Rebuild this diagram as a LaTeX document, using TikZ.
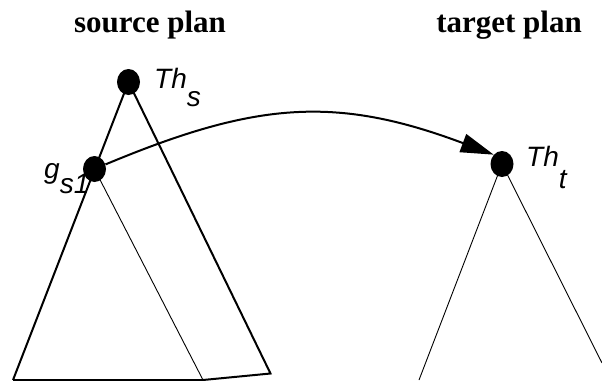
\documentclass[tikz,border=0pt]{standalone}
\usepackage{fontspec}
\setmainfont{Liberation Serif}
\newfontfamily\lsans{Liberation Sans}
\usetikzlibrary{arrows.meta,shapes.geometric}
\begin{document}
\begin{tikzpicture}[x=1pt,y=-1pt,
  dot/.style={ellipse,fill=black,inner sep=0pt,minimum width=23pt,minimum height=26pt},
  title/.style={font=\bfseries\fontsize{31}{31}\selectfont,inner sep=0pt,anchor=base},
  lbl/.style={font=\lsans\itshape\fontsize{28}{28}\selectfont,inner sep=0pt,anchor=base west},
  thickline/.style={line width=2pt},
  thinline/.style={line width=0.9pt},
  conn/.style={line width=2pt,-{Triangle[length=33pt,width=19pt]}}]
\useasboundingbox (0,0) rectangle (602,380);
% titles
\node[title] (tsrc) at (150,32) {source plan};
\node[title] (ttgt) at (509,32) {target plan};
% dots
\node[dot] (ths) at (128.5,82) {};
\node[dot] (gs1) at (94.5,169) {};
\node[dot] (tht) at (502,164) {};
% labels
\node[lbl] (lths) at (154,88) {Th\raisebox{-18.5pt}{s}};
\node[lbl] (lgs1) at (44,178) {g\raisebox{-15pt}{s1}};
\node[lbl] (ltht) at (526,166.7) {Th\raisebox{-21.5pt}{t}};
% source triangle corners
\coordinate (sbl) at (13,380);
\coordinate (sbm) at (203,380);
\coordinate (sbr) at (270.5,373.5);
% target triangle corners
\coordinate (tbl) at (419,380);
\coordinate (tbr) at (602,363);
% source plan
\draw[thickline] (ths.center) -- (sbl);
\draw[thickline] (ths.center) -- (sbr) -- (sbm) -- (sbl);
\draw[thinline] (gs1.center) -- (sbm);
% target plan
\draw[thinline] (tbl) -- (tht.center) -- (tbr);
% mapping arrow
\draw[conn] (gs1) .. controls (255,102) and (335,95) .. (tht.north west);
\end{tikzpicture}
\end{document}
